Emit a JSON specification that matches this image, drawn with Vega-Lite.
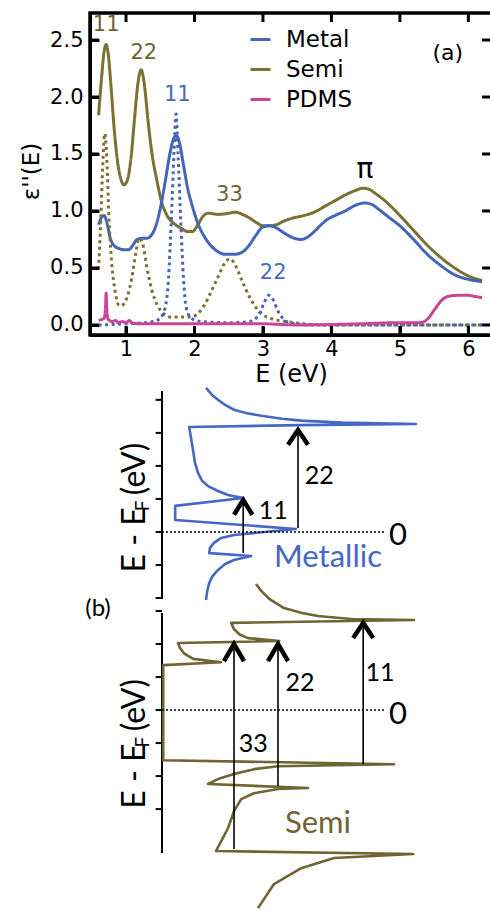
{
  "$schema": "https://vega.github.io/schema/vega-lite/v6.json",
  "padding": {"left": 18, "top": 5, "right": 0, "bottom": 0},
  "autosize": {"type": "pad"},
  "background": "white",
  "config": {
    "view": {"stroke": null},
    "font": "DejaVu Sans",
    "axis": {"labelFont": "DejaVu Sans", "titleFont": "DejaVu Sans", "labelColor": "black", "titleColor": "black", "titleFontWeight": "normal", "grid": false}
  },
  "bounds": "flush",
  "spacing": 14,
  "datasets": {
    "spec": [
      {"E":0.60,"v":1.84,"m":"Semi","k":"total"},{"E":0.64,"v":2.15,"m":"Semi","k":"total"},{"E":0.68,"v":2.40,"m":"Semi","k":"total"},{"E":0.71,"v":2.46,"m":"Semi","k":"total"},{"E":0.74,"v":2.38,"m":"Semi","k":"total"},{"E":0.78,"v":2.10,"m":"Semi","k":"total"},{"E":0.83,"v":1.70,"m":"Semi","k":"total"},{"E":0.88,"v":1.42,"m":"Semi","k":"total"},{"E":0.93,"v":1.27,"m":"Semi","k":"total"},{"E":0.97,"v":1.23,"m":"Semi","k":"total"},{"E":1.02,"v":1.27,"m":"Semi","k":"total"},{"E":1.07,"v":1.45,"m":"Semi","k":"total"},{"E":1.12,"v":1.78,"m":"Semi","k":"total"},{"E":1.17,"v":2.10,"m":"Semi","k":"total"},{"E":1.22,"v":2.24,"m":"Semi","k":"total"},{"E":1.27,"v":2.10,"m":"Semi","k":"total"},{"E":1.32,"v":1.80,"m":"Semi","k":"total"},{"E":1.38,"v":1.50,"m":"Semi","k":"total"},{"E":1.45,"v":1.27,"m":"Semi","k":"total"},{"E":1.52,"v":1.08,"m":"Semi","k":"total"},{"E":1.60,"v":0.96,"m":"Semi","k":"total"},{"E":1.70,"v":0.89,"m":"Semi","k":"total"},{"E":1.80,"v":0.85,"m":"Semi","k":"total"},{"E":1.90,"v":0.82,"m":"Semi","k":"total"},{"E":1.97,"v":0.82,"m":"Semi","k":"total"},{"E":2.05,"v":0.88,"m":"Semi","k":"total"},{"E":2.12,"v":0.95,"m":"Semi","k":"total"},{"E":2.20,"v":0.98,"m":"Semi","k":"total"},{"E":2.35,"v":0.97,"m":"Semi","k":"total"},{"E":2.50,"v":0.98,"m":"Semi","k":"total"},{"E":2.60,"v":0.99,"m":"Semi","k":"total"},{"E":2.70,"v":0.97,"m":"Semi","k":"total"},{"E":2.80,"v":0.94,"m":"Semi","k":"total"},{"E":2.90,"v":0.90,"m":"Semi","k":"total"},{"E":3.00,"v":0.87,"m":"Semi","k":"total"},{"E":3.10,"v":0.87,"m":"Semi","k":"total"},{"E":3.20,"v":0.88,"m":"Semi","k":"total"},{"E":3.30,"v":0.91,"m":"Semi","k":"total"},{"E":3.45,"v":0.94,"m":"Semi","k":"total"},{"E":3.60,"v":0.96,"m":"Semi","k":"total"},{"E":3.75,"v":0.99,"m":"Semi","k":"total"},{"E":3.90,"v":1.04,"m":"Semi","k":"total"},{"E":4.05,"v":1.09,"m":"Semi","k":"total"},{"E":4.20,"v":1.14,"m":"Semi","k":"total"},{"E":4.35,"v":1.18,"m":"Semi","k":"total"},{"E":4.46,"v":1.20,"m":"Semi","k":"total"},{"E":4.55,"v":1.19,"m":"Semi","k":"total"},{"E":4.65,"v":1.15,"m":"Semi","k":"total"},{"E":4.80,"v":1.08,"m":"Semi","k":"total"},{"E":5.00,"v":0.96,"m":"Semi","k":"total"},{"E":5.20,"v":0.83,"m":"Semi","k":"total"},{"E":5.40,"v":0.70,"m":"Semi","k":"total"},{"E":5.60,"v":0.59,"m":"Semi","k":"total"},{"E":5.80,"v":0.50,"m":"Semi","k":"total"},{"E":6.00,"v":0.43,"m":"Semi","k":"total"},{"E":6.20,"v":0.39,"m":"Semi","k":"total"},
      {"E":0.60,"v":0.88,"m":"Metal","k":"total"},{"E":0.64,"v":0.94,"m":"Metal","k":"total"},{"E":0.68,"v":0.96,"m":"Metal","k":"total"},{"E":0.72,"v":0.90,"m":"Metal","k":"total"},{"E":0.77,"v":0.76,"m":"Metal","k":"total"},{"E":0.82,"v":0.70,"m":"Metal","k":"total"},{"E":0.90,"v":0.67,"m":"Metal","k":"total"},{"E":0.98,"v":0.66,"m":"Metal","k":"total"},{"E":1.04,"v":0.66,"m":"Metal","k":"total"},{"E":1.10,"v":0.70,"m":"Metal","k":"total"},{"E":1.16,"v":0.75,"m":"Metal","k":"total"},{"E":1.22,"v":0.76,"m":"Metal","k":"total"},{"E":1.30,"v":0.76,"m":"Metal","k":"total"},{"E":1.36,"v":0.78,"m":"Metal","k":"total"},{"E":1.43,"v":0.86,"m":"Metal","k":"total"},{"E":1.50,"v":1.02,"m":"Metal","k":"total"},{"E":1.57,"v":1.25,"m":"Metal","k":"total"},{"E":1.64,"v":1.50,"m":"Metal","k":"total"},{"E":1.70,"v":1.64,"m":"Metal","k":"total"},{"E":1.74,"v":1.66,"m":"Metal","k":"total"},{"E":1.78,"v":1.60,"m":"Metal","k":"total"},{"E":1.84,"v":1.40,"m":"Metal","k":"total"},{"E":1.90,"v":1.20,"m":"Metal","k":"total"},{"E":1.97,"v":1.04,"m":"Metal","k":"total"},{"E":2.05,"v":0.89,"m":"Metal","k":"total"},{"E":2.15,"v":0.77,"m":"Metal","k":"total"},{"E":2.25,"v":0.69,"m":"Metal","k":"total"},{"E":2.35,"v":0.64,"m":"Metal","k":"total"},{"E":2.45,"v":0.62,"m":"Metal","k":"total"},{"E":2.58,"v":0.62,"m":"Metal","k":"total"},{"E":2.70,"v":0.64,"m":"Metal","k":"total"},{"E":2.80,"v":0.70,"m":"Metal","k":"total"},{"E":2.90,"v":0.79,"m":"Metal","k":"total"},{"E":3.00,"v":0.86,"m":"Metal","k":"total"},{"E":3.10,"v":0.87,"m":"Metal","k":"total"},{"E":3.20,"v":0.85,"m":"Metal","k":"total"},{"E":3.30,"v":0.81,"m":"Metal","k":"total"},{"E":3.42,"v":0.77,"m":"Metal","k":"total"},{"E":3.55,"v":0.75,"m":"Metal","k":"total"},{"E":3.65,"v":0.77,"m":"Metal","k":"total"},{"E":3.75,"v":0.82,"m":"Metal","k":"total"},{"E":3.85,"v":0.88,"m":"Metal","k":"total"},{"E":3.95,"v":0.93,"m":"Metal","k":"total"},{"E":4.05,"v":0.96,"m":"Metal","k":"total"},{"E":4.20,"v":1.00,"m":"Metal","k":"total"},{"E":4.35,"v":1.05,"m":"Metal","k":"total"},{"E":4.48,"v":1.07,"m":"Metal","k":"total"},{"E":4.58,"v":1.06,"m":"Metal","k":"total"},{"E":4.70,"v":1.01,"m":"Metal","k":"total"},{"E":4.85,"v":0.94,"m":"Metal","k":"total"},{"E":5.00,"v":0.87,"m":"Metal","k":"total"},{"E":5.20,"v":0.75,"m":"Metal","k":"total"},{"E":5.40,"v":0.62,"m":"Metal","k":"total"},{"E":5.60,"v":0.52,"m":"Metal","k":"total"},{"E":5.80,"v":0.44,"m":"Metal","k":"total"},{"E":6.00,"v":0.40,"m":"Metal","k":"total"},{"E":6.20,"v":0.38,"m":"Metal","k":"total"},
      {"E":0.60,"v":0.49,"m":"Semi","k":"comp"},{"E":0.63,"v":0.90,"m":"Semi","k":"comp"},{"E":0.66,"v":1.40,"m":"Semi","k":"comp"},{"E":0.69,"v":1.68,"m":"Semi","k":"comp"},{"E":0.72,"v":1.45,"m":"Semi","k":"comp"},{"E":0.75,"v":0.95,"m":"Semi","k":"comp"},{"E":0.79,"v":0.55,"m":"Semi","k":"comp"},{"E":0.84,"v":0.30,"m":"Semi","k":"comp"},{"E":0.90,"v":0.17,"m":"Semi","k":"comp"},{"E":0.96,"v":0.18,"m":"Semi","k":"comp"},{"E":1.02,"v":0.25,"m":"Semi","k":"comp"},{"E":1.08,"v":0.40,"m":"Semi","k":"comp"},{"E":1.14,"v":0.62,"m":"Semi","k":"comp"},{"E":1.19,"v":0.76,"m":"Semi","k":"comp"},{"E":1.24,"v":0.72,"m":"Semi","k":"comp"},{"E":1.30,"v":0.52,"m":"Semi","k":"comp"},{"E":1.38,"v":0.30,"m":"Semi","k":"comp"},{"E":1.46,"v":0.17,"m":"Semi","k":"comp"},{"E":1.55,"v":0.10,"m":"Semi","k":"comp"},{"E":1.65,"v":0.07,"m":"Semi","k":"comp"},{"E":1.80,"v":0.07,"m":"Semi","k":"comp"},{"E":1.95,"v":0.07,"m":"Semi","k":"comp"},{"E":2.05,"v":0.10,"m":"Semi","k":"comp"},{"E":2.15,"v":0.18,"m":"Semi","k":"comp"},{"E":2.25,"v":0.30,"m":"Semi","k":"comp"},{"E":2.35,"v":0.43,"m":"Semi","k":"comp"},{"E":2.45,"v":0.55,"m":"Semi","k":"comp"},{"E":2.52,"v":0.58,"m":"Semi","k":"comp"},{"E":2.60,"v":0.52,"m":"Semi","k":"comp"},{"E":2.70,"v":0.38,"m":"Semi","k":"comp"},{"E":2.80,"v":0.25,"m":"Semi","k":"comp"},{"E":2.90,"v":0.15,"m":"Semi","k":"comp"},{"E":3.00,"v":0.09,"m":"Semi","k":"comp"},{"E":3.15,"v":0.05,"m":"Semi","k":"comp"},{"E":3.35,"v":0.03,"m":"Semi","k":"comp"},{"E":3.60,"v":0.01,"m":"Semi","k":"comp"},{"E":4.00,"v":0.00,"m":"Semi","k":"comp"},{"E":5.00,"v":0.00,"m":"Semi","k":"comp"},{"E":6.20,"v":0.00,"m":"Semi","k":"comp"},
      {"E":0.60,"v":0.00,"m":"Metal","k":"comp"},{"E":1.00,"v":0.01,"m":"Metal","k":"comp"},{"E":1.40,"v":0.03,"m":"Metal","k":"comp"},{"E":1.50,"v":0.06,"m":"Metal","k":"comp"},{"E":1.57,"v":0.15,"m":"Metal","k":"comp"},{"E":1.62,"v":0.40,"m":"Metal","k":"comp"},{"E":1.66,"v":0.90,"m":"Metal","k":"comp"},{"E":1.70,"v":1.50,"m":"Metal","k":"comp"},{"E":1.73,"v":1.85,"m":"Metal","k":"comp"},{"E":1.76,"v":1.50,"m":"Metal","k":"comp"},{"E":1.80,"v":0.90,"m":"Metal","k":"comp"},{"E":1.84,"v":0.40,"m":"Metal","k":"comp"},{"E":1.88,"v":0.15,"m":"Metal","k":"comp"},{"E":1.95,"v":0.06,"m":"Metal","k":"comp"},{"E":2.10,"v":0.03,"m":"Metal","k":"comp"},{"E":2.50,"v":0.02,"m":"Metal","k":"comp"},{"E":2.80,"v":0.03,"m":"Metal","k":"comp"},{"E":2.95,"v":0.10,"m":"Metal","k":"comp"},{"E":3.02,"v":0.20,"m":"Metal","k":"comp"},{"E":3.09,"v":0.26,"m":"Metal","k":"comp"},{"E":3.15,"v":0.22,"m":"Metal","k":"comp"},{"E":3.22,"v":0.12,"m":"Metal","k":"comp"},{"E":3.30,"v":0.05,"m":"Metal","k":"comp"},{"E":3.40,"v":0.02,"m":"Metal","k":"comp"},{"E":3.70,"v":0.00,"m":"Metal","k":"comp"},{"E":5.00,"v":0.00,"m":"Metal","k":"comp"},{"E":6.20,"v":0.00,"m":"Metal","k":"comp"},
      {"E":0.60,"v":0.04,"m":"PDMS","k":"total"},{"E":0.65,"v":0.05,"m":"PDMS","k":"total"},{"E":0.68,"v":0.06,"m":"PDMS","k":"total"},{"E":0.70,"v":0.15,"m":"PDMS","k":"total"},{"E":0.71,"v":0.28,"m":"PDMS","k":"total"},{"E":0.72,"v":0.12,"m":"PDMS","k":"total"},{"E":0.74,"v":0.05,"m":"PDMS","k":"total"},{"E":0.80,"v":0.03,"m":"PDMS","k":"total"},{"E":0.85,"v":0.04,"m":"PDMS","k":"total"},{"E":0.88,"v":0.02,"m":"PDMS","k":"total"},{"E":0.95,"v":0.03,"m":"PDMS","k":"total"},{"E":1.00,"v":0.02,"m":"PDMS","k":"total"},{"E":1.05,"v":0.04,"m":"PDMS","k":"total"},{"E":1.08,"v":0.02,"m":"PDMS","k":"total"},{"E":1.20,"v":0.01,"m":"PDMS","k":"total"},{"E":2.00,"v":0.01,"m":"PDMS","k":"total"},{"E":3.00,"v":0.01,"m":"PDMS","k":"total"},{"E":3.50,"v":0.00,"m":"PDMS","k":"total"},{"E":4.40,"v":0.01,"m":"PDMS","k":"total"},{"E":5.00,"v":0.02,"m":"PDMS","k":"total"},{"E":5.30,"v":0.02,"m":"PDMS","k":"total"},{"E":5.40,"v":0.05,"m":"PDMS","k":"total"},{"E":5.50,"v":0.13,"m":"PDMS","k":"total"},{"E":5.60,"v":0.21,"m":"PDMS","k":"total"},{"E":5.70,"v":0.25,"m":"PDMS","k":"total"},{"E":5.85,"v":0.26,"m":"PDMS","k":"total"},{"E":6.00,"v":0.26,"m":"PDMS","k":"total"},{"E":6.10,"v":0.25,"m":"PDMS","k":"total"},{"E":6.20,"v":0.24,"m":"PDMS","k":"total"}
    ],
    "box": [
      {"bx":6.345,"by":2.737,"o":0},{"bx":0.474,"by":2.737,"o":1},{"bx":0.474,"by":-0.088,"o":2},{"bx":6.345,"by":-0.088,"o":3}
    ],
    "xticks": [{"t":1},{"t":2},{"t":3},{"t":4},{"t":5},{"t":6}],
    "yticks": [{"t":0},{"t":0.5},{"t":1},{"t":1.5},{"t":2},{"t":2.5}],
    "mticks": [{"t":-2},{"t":-1},{"t":0},{"t":1},{"t":2},{"t":3},{"t":4}],
    "sticks": [{"t":-3},{"t":-2},{"t":-1},{"t":0},{"t":1},{"t":2},{"t":3}],
    "annot_semi": [{"E":0.71,"v":2.63,"t":"11"},{"E":1.26,"v":2.39,"t":"22"},{"E":2.51,"v":1.14,"t":"33"}],
    "annot_metal": [{"E":1.75,"v":2.02,"t":"11"},{"E":3.15,"v":0.46,"t":"22"}],
    "metal_dos": [
      {"d":1.10,"E":4.36,"o":0},{"d":1.25,"E":4.15,"o":1},{"d":1.40,"E":4.00,"o":2},{"d":1.60,"E":3.83,"o":3},{"d":1.80,"E":3.70,"o":4},{"d":2.10,"E":3.60,"o":5},{"d":2.48,"E":3.52,"o":6},{"d":3.00,"E":3.43,"o":7},{"d":3.48,"E":3.37,"o":8},{"d":4.50,"E":3.31,"o":9},{"d":6.35,"E":3.27,"o":10},{"d":3.48,"E":3.235,"o":11},{"d":0.68,"E":3.18,"o":12},{"d":0.725,"E":2.85,"o":13},{"d":0.775,"E":2.48,"o":14},{"d":0.825,"E":2.09,"o":15},{"d":0.90,"E":1.79,"o":16},{"d":1.00,"E":1.55,"o":17},{"d":1.15,"E":1.39,"o":18},{"d":1.40,"E":1.24,"o":19},{"d":1.65,"E":1.12,"o":20},{"d":2.03,"E":1.03,"o":21},{"d":0.33,"E":0.79,"o":22},{"d":0.33,"E":0.36,"o":23},{"d":3.35,"E":0.09,"o":24},{"d":1.80,"E":-0.09,"o":25},{"d":1.48,"E":-0.18,"o":26},{"d":1.30,"E":-0.33,"o":27},{"d":1.20,"E":-0.48,"o":28},{"d":1.18,"E":-0.64,"o":29},{"d":2.23,"E":-0.73,"o":30},{"d":1.80,"E":-0.85,"o":31},{"d":1.58,"E":-0.97,"o":32},{"d":1.40,"E":-1.15,"o":33},{"d":1.25,"E":-1.36,"o":34},{"d":1.18,"E":-1.55,"o":35},{"d":1.13,"E":-1.79,"o":36},{"d":1.10,"E":-2.06,"o":37}
    ],
    "semi_dos": [
      {"d":2.35,"E":3.82,"o":0},{"d":2.48,"E":3.61,"o":1},{"d":2.70,"E":3.35,"o":2},{"d":3.05,"E":3.09,"o":3},{"d":3.50,"E":2.94,"o":4},{"d":3.90,"E":2.85,"o":5},{"d":4.73,"E":2.76,"o":6},{"d":6.30,"E":2.73,"o":7},{"d":1.73,"E":2.64,"o":8},{"d":1.80,"E":2.45,"o":9},{"d":1.95,"E":2.28,"o":10},{"d":2.15,"E":2.18,"o":11},{"d":2.93,"E":2.09,"o":12},{"d":0.40,"E":2.03,"o":13},{"d":0.45,"E":1.88,"o":14},{"d":0.55,"E":1.72,"o":15},{"d":0.78,"E":1.55,"o":16},{"d":1.48,"E":1.45,"o":17},{"d":0.03,"E":1.36,"o":18},{"d":0.03,"E":-1.52,"o":19},{"d":5.80,"E":-1.64,"o":20},{"d":2.90,"E":-1.70,"o":21},{"d":2.30,"E":-1.79,"o":22},{"d":1.80,"E":-1.94,"o":23},{"d":1.40,"E":-2.09,"o":24},{"d":1.15,"E":-2.24,"o":25},{"d":3.65,"E":-2.36,"o":26},{"d":2.90,"E":-2.39,"o":27},{"d":2.30,"E":-2.52,"o":28},{"d":1.98,"E":-2.70,"o":29},{"d":1.80,"E":-3.06,"o":30},{"d":1.65,"E":-3.58,"o":31},{"d":1.48,"E":-3.97,"o":32},{"d":1.35,"E":-4.27,"o":33},{"d":6.28,"E":-4.36,"o":34},{"d":4.30,"E":-4.48,"o":35},{"d":3.48,"E":-4.79,"o":36},{"d":2.80,"E":-5.27,"o":37},{"d":2.40,"E":-6.00,"o":38}
    ],
    "metal_shafts": [{"d":2.03,"E1":-0.64,"E2":0.97},{"d":3.40,"E1":0.12,"E2":3.09}],
    "metal_heads": [{"a":"11","d":1.80,"E":0.52,"o":0},{"a":"11","d":2.03,"E":0.97,"o":1},{"a":"11","d":2.26,"E":0.52,"o":2},{"a":"22","d":3.15,"E":2.64,"o":0},{"a":"22","d":3.40,"E":3.09,"o":1},{"a":"22","d":3.65,"E":2.64,"o":2}],
    "semi_shafts": [{"d":1.80,"E1":-4.21,"E2":2.0},{"d":2.90,"E1":-2.30,"E2":2.0},{"d":5.03,"E1":-1.64,"E2":2.64}],
    "semi_heads": [{"a":"33","d":1.55,"E":1.48,"o":0},{"a":"33","d":1.80,"E":2.0,"o":1},{"a":"33","d":2.05,"E":1.48,"o":2},{"a":"22","d":2.65,"E":1.48,"o":0},{"a":"22","d":2.90,"E":2.0,"o":1},{"a":"22","d":3.15,"E":1.48,"o":2},{"a":"11","d":4.78,"E":2.18,"o":0},{"a":"11","d":5.03,"E":2.64,"o":1},{"a":"11","d":5.28,"E":2.18,"o":2}]
  },
  "vconcat": [
    {
      "width": 402,
      "height": 322,
      "view": {"stroke": "black", "strokeWidth": 3},
      "layer": [
        {
          "data": {"name": "spec"},
          "mark": {"type": "line", "strokeWidth": 3, "strokeCap": "butt", "interpolate": "monotone"},
          "encoding": {
            "x": {"field": "E", "type": "quantitative", "scale": {"domain": [0.474, 6.345], "nice": false, "zero": false},
                  "axis": {"orient": "bottom", "values": [1,2,3,4,5,6], "format": "d", "tickSize": -9, "tickWidth": 3, "tickColor": "black", "domainWidth": 3, "domainColor": "black", "labelFontSize": 21, "labelPadding": 12, "title": "E (eV)", "titleFontSize": 24, "titleY": 46, "titleBaseline": "alphabetic"}},
            "y": {"field": "v", "type": "quantitative", "scale": {"domain": [-0.088, 2.737], "nice": false, "zero": false},
                  "axis": {"orient": "left", "values": [0,0.5,1,1.5,2,2.5], "format": ".1f", "tickSize": -9, "tickWidth": 3, "tickColor": "black", "domainWidth": 3, "domainColor": "black", "labelFontSize": 21, "labelPadding": 16, "title": "ε''(E)", "titleFontSize": 23, "titleX": -52, "titleY": 158, "titleAngle": 270, "titleAlign": "center", "titleBaseline": "alphabetic"}},
            "color": {"field": "m", "type": "nominal", "scale": {"domain": ["Metal","Semi","PDMS"], "range": ["#4466b8","#7a7232","#cc4499"]},
                      "legend": {"orient": "none", "legendX": 159, "legendY": 15, "title": null, "symbolType": "stroke", "symbolSize": 400, "symbolStrokeWidth": 3, "labelFontSize": 23, "labelFont": "DejaVu Sans", "labelColor": "black", "rowPadding": 6, "labelOffset": 14, "padding": 0}},
            "strokeDash": {"field": "k", "type": "nominal", "scale": {"domain": ["total","comp"], "range": [[1,0],[3,3.5]]}, "legend": null}
          }
        },
        {
          "data": {"name": "box"},
          "mark": {"type": "line", "color": "black", "strokeWidth": 3, "strokeJoin": "miter", "strokeCap": "square"},
          "encoding": {
            "x": {"field": "bx", "type": "quantitative"},
            "y": {"field": "by", "type": "quantitative"},
            "order": {"field": "o", "type": "quantitative"}
          }
        },
        {
          "data": {"name": "xticks"},
          "mark": {"type": "rule", "color": "black", "strokeWidth": 3},
          "encoding": {
            "x": {"field": "t", "type": "quantitative"},
            "y": {"datum": -0.088, "type": "quantitative"},
            "y2": {"datum": -0.009}
          }
        },
        {
          "data": {"name": "xticks"},
          "mark": {"type": "rule", "color": "black", "strokeWidth": 3},
          "encoding": {
            "x": {"field": "t", "type": "quantitative"},
            "y": {"datum": 2.737, "type": "quantitative"},
            "y2": {"datum": 2.658}
          }
        },
        {
          "data": {"name": "yticks"},
          "mark": {"type": "rule", "color": "black", "strokeWidth": 3},
          "encoding": {
            "y": {"field": "t", "type": "quantitative"},
            "x": {"datum": 0.474, "type": "quantitative"},
            "x2": {"datum": 0.605}
          }
        },
        {
          "data": {"name": "yticks"},
          "mark": {"type": "rule", "color": "black", "strokeWidth": 3},
          "encoding": {
            "y": {"field": "t", "type": "quantitative"},
            "x": {"datum": 6.20, "type": "quantitative"},
            "x2": {"datum": 6.345}
          }
        },
        {
          "data": {"name": "annot_semi"},
          "mark": {"type": "text", "color": "#6b6535", "fontSize": 21, "font": "DejaVu Sans", "align": "center", "baseline": "middle"},
          "encoding": {
            "x": {"field": "E", "type": "quantitative"},
            "y": {"field": "v", "type": "quantitative"},
            "text": {"field": "t"}
          }
        },
        {
          "data": {"name": "annot_metal"},
          "mark": {"type": "text", "color": "#4a6cc0", "fontSize": 21, "font": "DejaVu Sans", "align": "center", "baseline": "middle"},
          "encoding": {
            "x": {"field": "E", "type": "quantitative"},
            "y": {"field": "v", "type": "quantitative"},
            "text": {"field": "t"}
          }
        },
        {
          "data": {"values": [{"E":4.49,"v":1.36,"t":"π"}]},
          "mark": {"type": "text", "color": "black", "fontSize": 28, "font": "DejaVu Sans", "align": "center", "baseline": "middle"},
          "encoding": {
            "x": {"field": "E", "type": "quantitative"},
            "y": {"field": "v", "type": "quantitative"},
            "text": {"field": "t"}
          }
        },
        {
          "data": {"values": [{"E":5.70,"v":2.39,"t":"(a)"}]},
          "mark": {"type": "text", "color": "black", "fontSize": 22, "font": "DejaVu Sans", "align": "center", "baseline": "middle"},
          "encoding": {
            "x": {"field": "E", "type": "quantitative"},
            "y": {"field": "v", "type": "quantitative"},
            "text": {"field": "t"}
          }
        }
      ]
    },
    {
      "width": 402,
      "height": 250,
      "layer": [
        {
          "data": {"values": [{"d":0,"E1":-2.03,"E2":4.27}]},
          "mark": {"type": "rule", "color": "black", "strokeWidth": 2},
          "encoding": {
            "x": {"field": "d", "type": "quantitative", "scale": {"domain": [-1.8, 8.25], "nice": false, "zero": false}, "axis": null},
            "y": {"field": "E1", "type": "quantitative", "scale": {"domain": [-2.03, 5.54], "nice": false, "zero": false}, "axis": null},
            "y2": {"field": "E2"}
          }
        },
        {
          "data": {"name": "mticks"},
          "mark": {"type": "rule", "color": "black", "strokeWidth": 2},
          "encoding": {
            "y": {"field": "t", "type": "quantitative"},
            "x": {"datum": -0.16, "type": "quantitative"},
            "x2": {"datum": 0}
          }
        },
        {
          "data": {"name": "metal_dos"},
          "mark": {"type": "line", "color": "#4468c4", "strokeWidth": 2.6, "strokeJoin": "round"},
          "encoding": {
            "x": {"field": "d", "type": "quantitative"},
            "y": {"field": "E", "type": "quantitative"},
            "order": {"field": "o", "type": "quantitative"}
          }
        },
        {
          "data": {"values": [{"d1":0,"d2":5.55,"E":0}]},
          "mark": {"type": "rule", "color": "black", "strokeWidth": 1.5, "strokeDash": [2,2]},
          "encoding": {
            "x": {"field": "d1", "type": "quantitative"},
            "x2": {"field": "d2"},
            "y": {"field": "E", "type": "quantitative"}
          }
        },
        {
          "data": {"name": "metal_shafts"},
          "mark": {"type": "rule", "color": "black", "strokeWidth": 1.6},
          "encoding": {
            "x": {"field": "d", "type": "quantitative"},
            "y": {"field": "E1", "type": "quantitative"},
            "y2": {"field": "E2"}
          }
        },
        {
          "data": {"name": "metal_heads"},
          "mark": {"type": "line", "color": "black", "strokeWidth": 4.5, "strokeJoin": "miter", "strokeCap": "butt"},
          "encoding": {
            "x": {"field": "d", "type": "quantitative"},
            "y": {"field": "E", "type": "quantitative"},
            "detail": {"field": "a"},
            "order": {"field": "o", "type": "quantitative"}
          }
        },
        {
          "data": {"values": [{"d":2.78,"E":0.64,"t":"11"},{"d":3.93,"E":1.70,"t":"22"}]},
          "mark": {"type": "text", "color": "black", "fontSize": 25, "font": "Lato", "align": "center", "baseline": "middle"},
          "encoding": {
            "x": {"field": "d", "type": "quantitative"},
            "y": {"field": "E", "type": "quantitative"},
            "text": {"field": "t"}
          }
        },
        {
          "data": {"values": [{"d":5.9,"E":-0.12,"t":"0"}]},
          "mark": {"type": "text", "color": "black", "fontSize": 31, "font": "Lato", "align": "center", "baseline": "middle"},
          "encoding": {
            "x": {"field": "d", "type": "quantitative"},
            "y": {"field": "E", "type": "quantitative"},
            "text": {"field": "t"}
          }
        },
        {
          "data": {"values": [{"d":4.15,"E":-0.79,"t":"Metallic"}]},
          "mark": {"type": "text", "color": "#4468c4", "fontSize": 31, "font": "Lato", "align": "center", "baseline": "middle"},
          "encoding": {
            "x": {"field": "d", "type": "quantitative"},
            "y": {"field": "E", "type": "quantitative"},
            "text": {"field": "t"}
          }
        },
        {
          "data": {"values": [{"d":-0.675,"E":-0.24,"t":"E - E"},{"d":-0.675,"E":1.91,"t":"(eV)"}]},
          "mark": {"type": "text", "color": "black", "fontSize": 32, "font": "Lato", "align": "center", "baseline": "middle", "angle": 270},
          "encoding": {
            "x": {"field": "d", "type": "quantitative"},
            "y": {"field": "E", "type": "quantitative"},
            "text": {"field": "t"}
          }
        },
        {
          "data": {"values": [{"d":-0.48,"E":0.79,"t":"F"}]},
          "mark": {"type": "text", "color": "black", "fontSize": 19, "font": "Lato", "align": "center", "baseline": "middle", "angle": 270},
          "encoding": {
            "x": {"field": "d", "type": "quantitative"},
            "y": {"field": "E", "type": "quantitative"},
            "text": {"field": "t"}
          }
        }
      ]
    },
    {
      "width": 402,
      "height": 240,
      "layer": [
        {
          "data": {"values": [{"d":0,"E1":-4.33,"E2":2.94}]},
          "mark": {"type": "rule", "color": "black", "strokeWidth": 2},
          "encoding": {
            "x": {"field": "d", "type": "quantitative", "scale": {"domain": [-1.8, 8.25], "nice": false, "zero": false}, "axis": null},
            "y": {"field": "E1", "type": "quantitative", "scale": {"domain": [-4.33, 2.94], "nice": false, "zero": false}, "axis": null},
            "y2": {"field": "E2"}
          }
        },
        {
          "data": {"name": "sticks"},
          "mark": {"type": "rule", "color": "black", "strokeWidth": 2},
          "encoding": {
            "y": {"field": "t", "type": "quantitative"},
            "x": {"datum": -0.16, "type": "quantitative"},
            "x2": {"datum": 0}
          }
        },
        {
          "data": {"name": "semi_dos"},
          "mark": {"type": "line", "color": "#6e6533", "strokeWidth": 2.6, "strokeJoin": "round"},
          "encoding": {
            "x": {"field": "d", "type": "quantitative"},
            "y": {"field": "E", "type": "quantitative"},
            "order": {"field": "o", "type": "quantitative"}
          }
        },
        {
          "data": {"values": [{"d1":0,"d2":5.55,"E":0}]},
          "mark": {"type": "rule", "color": "black", "strokeWidth": 1.5, "strokeDash": [2,2]},
          "encoding": {
            "x": {"field": "d1", "type": "quantitative"},
            "x2": {"field": "d2"},
            "y": {"field": "E", "type": "quantitative"}
          }
        },
        {
          "data": {"name": "semi_shafts"},
          "mark": {"type": "rule", "color": "black", "strokeWidth": 1.6},
          "encoding": {
            "x": {"field": "d", "type": "quantitative"},
            "y": {"field": "E1", "type": "quantitative"},
            "y2": {"field": "E2"}
          }
        },
        {
          "data": {"name": "semi_heads"},
          "mark": {"type": "line", "color": "black", "strokeWidth": 4.5, "strokeJoin": "miter", "strokeCap": "butt"},
          "encoding": {
            "x": {"field": "d", "type": "quantitative"},
            "y": {"field": "E", "type": "quantitative"},
            "detail": {"field": "a"},
            "order": {"field": "o", "type": "quantitative"}
          }
        },
        {
          "data": {"values": [{"d":3.45,"E":0.82,"t":"22"},{"d":5.45,"E":1.12,"t":"11"},{"d":2.28,"E":-1.03,"t":"33"}]},
          "mark": {"type": "text", "color": "black", "fontSize": 25, "font": "Lato", "align": "center", "baseline": "middle"},
          "encoding": {
            "x": {"field": "d", "type": "quantitative"},
            "y": {"field": "E", "type": "quantitative"},
            "text": {"field": "t"}
          }
        },
        {
          "data": {"values": [{"d":5.9,"E":-0.15,"t":"0"}]},
          "mark": {"type": "text", "color": "black", "fontSize": 31, "font": "Lato", "align": "center", "baseline": "middle"},
          "encoding": {
            "x": {"field": "d", "type": "quantitative"},
            "y": {"field": "E", "type": "quantitative"},
            "text": {"field": "t"}
          }
        },
        {
          "data": {"values": [{"d":3.9,"E":-3.45,"t":"Semi"}]},
          "mark": {"type": "text", "color": "#6e6533", "fontSize": 31, "font": "Lato", "align": "center", "baseline": "middle"},
          "encoding": {
            "x": {"field": "d", "type": "quantitative"},
            "y": {"field": "E", "type": "quantitative"},
            "text": {"field": "t"}
          }
        },
        {
          "data": {"values": [{"d":-1.6,"E":3.06,"t":"(b)"}]},
          "mark": {"type": "text", "color": "black", "fontSize": 24, "font": "Lato", "align": "center", "baseline": "middle"},
          "encoding": {
            "x": {"field": "d", "type": "quantitative"},
            "y": {"field": "E", "type": "quantitative"},
            "text": {"field": "t"}
          }
        },
        {
          "data": {"values": [{"d":-0.675,"E":-2.0,"t":"E - E"},{"d":-0.675,"E":0.15,"t":"(eV)"}]},
          "mark": {"type": "text", "color": "black", "fontSize": 32, "font": "Lato", "align": "center", "baseline": "middle", "angle": 270},
          "encoding": {
            "x": {"field": "d", "type": "quantitative"},
            "y": {"field": "E", "type": "quantitative"},
            "text": {"field": "t"}
          }
        },
        {
          "data": {"values": [{"d":-0.48,"E":-0.97,"t":"F"}]},
          "mark": {"type": "text", "color": "black", "fontSize": 19, "font": "Lato", "align": "center", "baseline": "middle", "angle": 270},
          "encoding": {
            "x": {"field": "d", "type": "quantitative"},
            "y": {"field": "E", "type": "quantitative"},
            "text": {"field": "t"}
          }
        }
      ]
    }
  ]
}
